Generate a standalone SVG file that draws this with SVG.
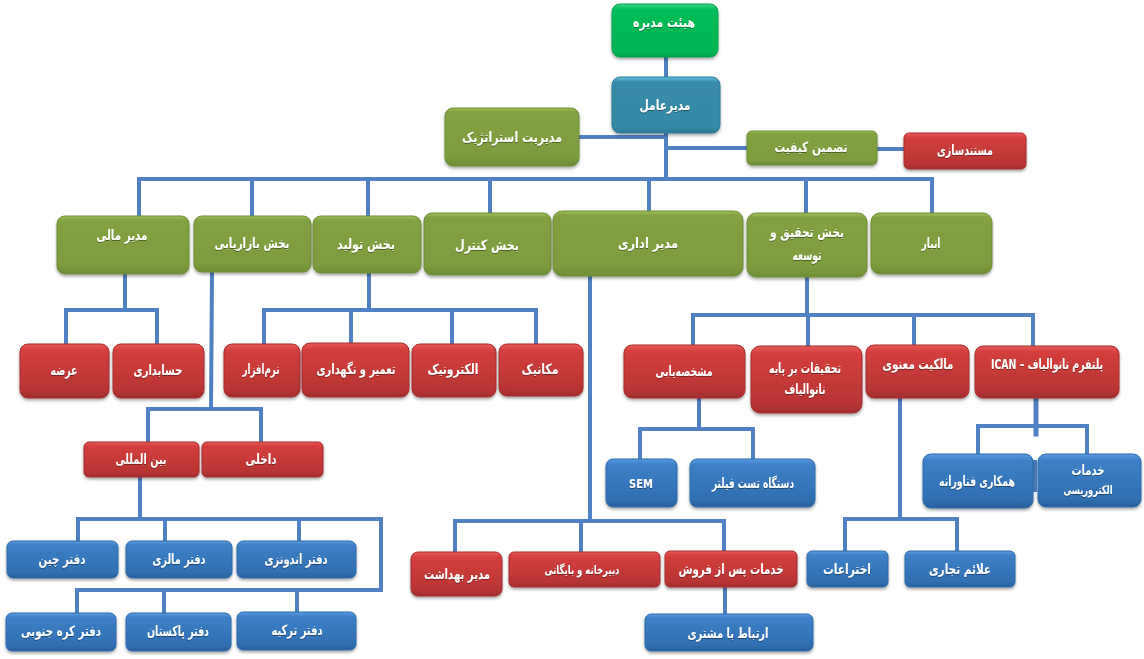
<svg xmlns="http://www.w3.org/2000/svg" width="1144" height="659" viewBox="0 0 1144 659">
<style>
.bg{fill:#ffffff}
#connectors path{fill:none;stroke:#4f81c4;stroke-width:4;stroke-linecap:square;stroke-linejoin:miter}
.n rect{stroke-width:1;filter:url(#sh)}
.gr rect{fill:url(#gGreen);stroke:#6d8c38}
.rd rect{fill:url(#gRed);stroke:#a52f2e}
.bl rect{fill:url(#gBlue);stroke:#2c6aa8}
.lg rect{fill:url(#gLime);stroke:#00a04a}
.te rect{fill:url(#gTeal);stroke:#2f7d99}
text{font-family:"DejaVu Sans","Noto Sans",sans-serif;font-weight:700;font-size:14px;fill:#ffffff;text-anchor:middle;direction:rtl;filter:url(#ts)}
.s{font-size:12px}
</style>
<defs>
<linearGradient id="gGreen" x1="0" y1="0" x2="0" y2="1"><stop offset="0" stop-color="#a0c05a"/><stop offset="0.07" stop-color="#82a242"/><stop offset="0.85" stop-color="#7c9c3e"/><stop offset="1" stop-color="#6f8e36"/></linearGradient>
<linearGradient id="gRed" x1="0" y1="0" x2="0" y2="1"><stop offset="0" stop-color="#e65a58"/><stop offset="0.12" stop-color="#d43f3d"/><stop offset="0.85" stop-color="#b83533"/><stop offset="1" stop-color="#a32d2c"/></linearGradient>
<linearGradient id="gBlue" x1="0" y1="0" x2="0" y2="1"><stop offset="0" stop-color="#5a9be0"/><stop offset="0.12" stop-color="#3d7fc6"/><stop offset="0.85" stop-color="#306fb2"/><stop offset="1" stop-color="#28609c"/></linearGradient>
<linearGradient id="gLime" x1="0" y1="0" x2="0" y2="1"><stop offset="0" stop-color="#3fd880"/><stop offset="0.1" stop-color="#00bd58"/><stop offset="0.9" stop-color="#00b552"/><stop offset="1" stop-color="#00a04a"/></linearGradient>
<linearGradient id="gTeal" x1="0" y1="0" x2="0" y2="1"><stop offset="0" stop-color="#62c0e0"/><stop offset="0.09" stop-color="#388ba8"/><stop offset="0.9" stop-color="#358aa6"/><stop offset="1" stop-color="#2c7690"/></linearGradient>
<filter id="sh" x="-10%" y="-15%" width="120%" height="135%"><feDropShadow dx="0" dy="2" stdDeviation="1.5" flood-color="#000000" flood-opacity="0.35"/></filter>
<filter id="ts" x="-10%" y="-20%" width="120%" height="150%"><feDropShadow dx="0" dy="1" stdDeviation="0.6" flood-color="#000000" flood-opacity="0.4"/></filter>
</defs>
<rect class="bg" width="1144" height="659"/>
<g id="connectors">
<path d="M666 57V78M666 133V179M579 137H666M666 148H747M877 149H904"/>
<path d="M139 216V179H932V213M252 179V216M368 179V216M490 179V213M649 179V211M806 179V213"/>
<path d="M125 274V310M66 344V310H157V344"/>
<path d="M369 273V310M264 344V310H536V344M351 310V343M452 310V344"/>
<path d="M212 272L211 409M148 442V409H261V442"/>
<path d="M140 477V519M78 541V519H381V590H77V613M165 519V541M299 519V541M164 590V613M297 590V612"/>
<path d="M590 276V521M455 552V521H724V551M581 521V552"/>
<path d="M807 277V315M693 345V315H1033V346M808 315V346M914 315V345"/>
<path d="M699 398V429M640 459V429H753V459"/>
<path d="M900 398V519M845 551V519H957V551"/>
<path d="M978 454V426H1087V454"/>
<path d="M1036 399V434" style="stroke-width:5"/>
<path d="M1035 462V490"/>
<path d="M725 587V614"/>
</g>
<g id="n1" class="n lg"><rect x="612" y="4" width="106" height="53" rx="8"/><text x="664" y="27" textLength="62" lengthAdjust="spacingAndGlyphs">هیئت مدیره</text></g>
<g id="n2" class="n te"><rect x="612" y="77" width="108" height="56" rx="8"/><text x="665" y="110" textLength="51" lengthAdjust="spacingAndGlyphs">مدیرعامل</text></g>
<g id="n3" class="n gr"><rect x="445" y="108" width="134" height="58" rx="8"/><text x="512" y="142" textLength="100" lengthAdjust="spacingAndGlyphs">مدیریت استراتژیک</text></g>
<g id="n4" class="n gr"><rect x="747" y="131" width="130" height="34" rx="5"/><text x="811" y="152" textLength="73" lengthAdjust="spacingAndGlyphs">تضمین کیفیت</text></g>
<g id="n5" class="n rd"><rect x="904" y="133" width="122" height="36" rx="5"/><text x="965" y="155" textLength="56" lengthAdjust="spacingAndGlyphs">مستندسازی</text></g>
<g id="n6" class="n gr"><rect x="57" y="216" width="132" height="58" rx="8"/><text x="122" y="240" textLength="51" lengthAdjust="spacingAndGlyphs">مدیر مالی</text></g>
<g id="n7" class="n gr"><rect x="194" y="216" width="117" height="56" rx="8"/><text x="252" y="248" textLength="75" lengthAdjust="spacingAndGlyphs">بخش بازاریابی</text></g>
<g id="n8" class="n gr"><rect x="313" y="216" width="108" height="57" rx="8"/><text x="366" y="249" textLength="58" lengthAdjust="spacingAndGlyphs">بخش تولید</text></g>
<g id="n9" class="n gr"><rect x="424" y="213" width="127" height="62" rx="8"/><text x="487" y="250" textLength="64" lengthAdjust="spacingAndGlyphs">بخش کنترل</text></g>
<g id="n10" class="n gr"><rect x="553" y="211" width="190" height="65" rx="9"/><text x="648" y="248" textLength="60" lengthAdjust="spacingAndGlyphs">مدیر اداری</text></g>
<g id="n11" class="n gr"><rect x="747" y="213" width="120" height="64" rx="9"/><text x="807" y="237" textLength="74" lengthAdjust="spacingAndGlyphs">بخش تحقیق و</text><text x="807" y="260" textLength="29" lengthAdjust="spacingAndGlyphs">توسعه</text></g>
<g id="n12" class="n gr"><rect x="871" y="213" width="121" height="61" rx="9"/><text x="931" y="248" textLength="19" lengthAdjust="spacingAndGlyphs">انبار</text></g>
<g id="n13" class="n rd"><rect x="20" y="344" width="89" height="54" rx="8"/><text x="64" y="375" textLength="27" lengthAdjust="spacingAndGlyphs">عرضه</text></g>
<g id="n14" class="n rd"><rect x="113" y="344" width="91" height="54" rx="8"/><text x="158" y="375" textLength="49" lengthAdjust="spacingAndGlyphs">حسابداری</text></g>
<g id="n15" class="n rd"><rect x="224" y="344" width="76" height="53" rx="8"/><text x="261" y="374" textLength="37" lengthAdjust="spacingAndGlyphs">نرم‌افزار</text></g>
<g id="n16" class="n rd"><rect x="302" y="343" width="107" height="54" rx="8"/><text x="356" y="374" textLength="79" lengthAdjust="spacingAndGlyphs">تعمیر و نگهداری</text></g>
<g id="n17" class="n rd"><rect x="412" y="344" width="84" height="53" rx="8"/><text x="453" y="374" textLength="51" lengthAdjust="spacingAndGlyphs">الکترونیک</text></g>
<g id="n18" class="n rd"><rect x="499" y="344" width="84" height="52" rx="8"/><text x="540" y="374" textLength="37" lengthAdjust="spacingAndGlyphs">مکانیک</text></g>
<g id="n19" class="n rd"><rect x="624" y="345" width="121" height="53" rx="8"/><text x="684" y="376" textLength="57" lengthAdjust="spacingAndGlyphs">مشخصه‌یابی</text></g>
<g id="n20" class="n rd"><rect x="751" y="346" width="111" height="67" rx="9"/><text x="805" y="373" textLength="72" lengthAdjust="spacingAndGlyphs">تحقیقات بر پایه</text><text x="805" y="394" textLength="41" lengthAdjust="spacingAndGlyphs">نانوالیاف</text></g>
<g id="n21" class="n rd"><rect x="866" y="345" width="103" height="53" rx="8"/><text x="918" y="369" textLength="71" lengthAdjust="spacingAndGlyphs">مالکیت معنوی</text></g>
<g id="n22" class="n rd"><rect x="975" y="346" width="144" height="52" rx="8"/><text x="1047" y="369" textLength="112" lengthAdjust="spacingAndGlyphs">پلتفرم نانوالیاف – ICAN</text></g>
<g id="n23" class="n rd"><rect x="84" y="442" width="115" height="35" rx="5"/><text x="141" y="464" textLength="51" lengthAdjust="spacingAndGlyphs">بین المللی</text></g>
<g id="n24" class="n rd"><rect x="202" y="442" width="121" height="35" rx="5"/><text x="261" y="464" textLength="31" lengthAdjust="spacingAndGlyphs">داخلی</text></g>
<g id="n25" class="n bl"><rect x="606" y="459" width="71" height="48" rx="7"/><text x="641" y="488" textLength="24" lengthAdjust="spacingAndGlyphs" style="direction:ltr;font-size:12px">SEM</text></g>
<g id="n26" class="n bl"><rect x="690" y="459" width="125" height="48" rx="7"/><text x="753" y="488" textLength="82" lengthAdjust="spacingAndGlyphs">دستگاه تست فیلتر</text></g>
<g id="n27" class="n bl"><rect x="923" y="454" width="110" height="54" rx="8"/><text x="977" y="486" textLength="76" lengthAdjust="spacingAndGlyphs">همکاری فناورانه</text></g>
<g id="n28" class="n bl"><rect x="1038" y="454" width="103" height="53" rx="8"/><text x="1088" y="475" textLength="33" lengthAdjust="spacingAndGlyphs">خدمات</text><text class="s" x="1088" y="494" textLength="49" lengthAdjust="spacingAndGlyphs">الکتروریسی</text></g>
<g id="n29" class="n bl"><rect x="7" y="541" width="111" height="37" rx="6"/><text x="62" y="564" textLength="47" lengthAdjust="spacingAndGlyphs">دفتر چین</text></g>
<g id="n30" class="n bl"><rect x="126" y="541" width="106" height="37" rx="6"/><text x="179" y="564" textLength="53" lengthAdjust="spacingAndGlyphs">دفتر مالزی</text></g>
<g id="n31" class="n bl"><rect x="237" y="541" width="119" height="37" rx="6"/><text x="296" y="564" textLength="63" lengthAdjust="spacingAndGlyphs">دفتر اندونزی</text></g>
<g id="n32" class="n bl"><rect x="6" y="613" width="110" height="38" rx="6"/><text x="61" y="636" textLength="80" lengthAdjust="spacingAndGlyphs">دفتر کره جنوبی</text></g>
<g id="n33" class="n bl"><rect x="126" y="613" width="105" height="38" rx="6"/><text x="178" y="636" textLength="62" lengthAdjust="spacingAndGlyphs">دفتر پاکستان</text></g>
<g id="n34" class="n bl"><rect x="237" y="612" width="119" height="38" rx="6"/><text x="297" y="635" textLength="51" lengthAdjust="spacingAndGlyphs">دفتر ترکیه</text></g>
<g id="n35" class="n rd"><rect x="411" y="552" width="91" height="44" rx="7"/><text x="457" y="579" textLength="66" lengthAdjust="spacingAndGlyphs">مدیر بهداشت</text></g>
<g id="n36" class="n rd"><rect x="509" y="552" width="151" height="35" rx="5"/><text class="s" x="582" y="574" textLength="75" lengthAdjust="spacingAndGlyphs">دبیرخانه و بایگانی</text></g>
<g id="n37" class="n rd"><rect x="665" y="551" width="132" height="36" rx="5"/><text x="731" y="574" textLength="105" lengthAdjust="spacingAndGlyphs">خدمات پس از فروش</text></g>
<g id="n38" class="n bl"><rect x="807" y="551" width="81" height="36" rx="5"/><text x="847" y="574" textLength="48" lengthAdjust="spacingAndGlyphs">اختراعات</text></g>
<g id="n39" class="n bl"><rect x="905" y="551" width="110" height="36" rx="5"/><text x="960" y="574" textLength="62" lengthAdjust="spacingAndGlyphs">علائم تجاری</text></g>
<g id="n40" class="n bl"><rect x="645" y="614" width="168" height="37" rx="6"/><text x="728" y="638" textLength="81" lengthAdjust="spacingAndGlyphs">ارتباط با مشتری</text></g>
</svg>
